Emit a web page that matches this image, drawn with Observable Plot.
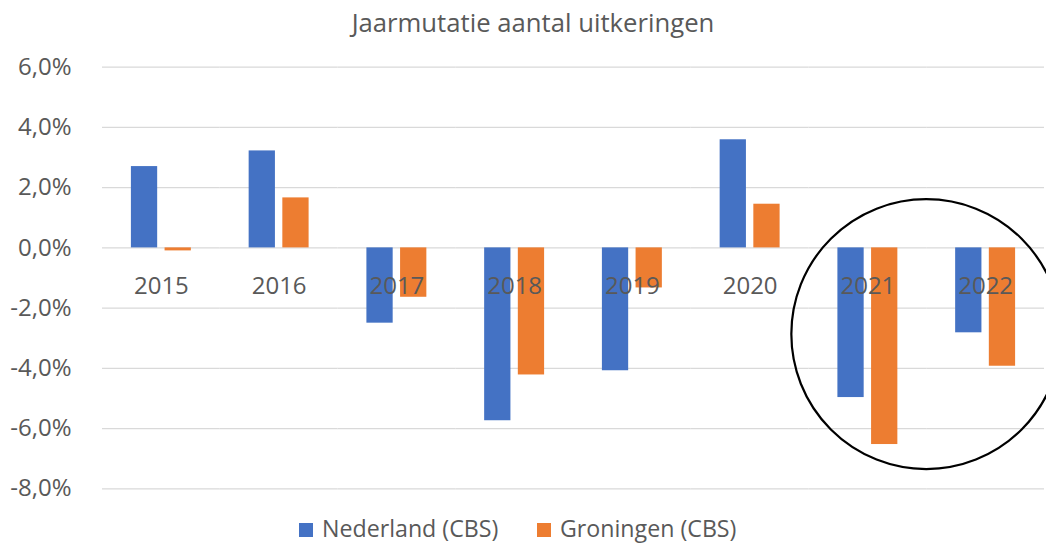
<!DOCTYPE html>
<html>
<head>
<meta charset="utf-8">
<script src="https://cdn.jsdelivr.net/npm/d3@7"></script>
<script src="https://cdn.jsdelivr.net/npm/@observablehq/plot@0.6"></script>
<style>
  html, body { margin: 0; padding: 0; background: #ffffff; }
  #wrap { position: relative; width: 1046px; height: 544px; overflow: hidden; font-family: "Open Sans", sans-serif; color: #595959; }
  #chart { position: absolute; left: 0; top: 0; }
  #title { position: absolute; left: 0; top: 10px; width: 1066px; text-align: center; font-size: 25.7px; line-height: 25.7px; white-space: nowrap; }
  .leg { position: absolute; top: 516.6px; font-size: 23.2px; line-height: 23.2px; white-space: nowrap; }
  .sw { position: absolute; top: 523px; width: 14px; height: 14px; }
</style>
</head>
<body>
<div id="wrap">
  <div id="chart"></div>
  <div id="title"></div>
  <div id="legend"></div>
</div>
<script>
// ---- data ----
const titleText = "Jaarmutatie aantal uitkeringen";
const years = ["2015", "2016", "2017", "2018", "2019", "2020", "2021", "2022"];
const series = ["Nederland (CBS)", "Groningen (CBS)"];
const nederland = [2.70, 3.22, -2.50, -5.74, -4.08, 3.59, -4.97, -2.82];
const groningen = [-0.10, 1.66, -1.64, -4.22, -1.33, 1.45, -6.53, -3.93];
const yTicks = [-8, -6, -4, -2, 0, 2, 4, 6];
const colors = ["#4472C4", "#ED7D31"];
// hand-drawn highlight circle around the last two years (centre between them, in % units)
const highlight = { from: "2021", to: "2022", y: -2.88, radius: 4.48 };

const rows = years.flatMap((yr, i) => [
  { year: yr, series: series[0], value: nederland[i] },
  { year: yr, series: series[1], value: groningen[i] }
]);
const fmt = d => d.toFixed(1).replace(".", ",") + "%";

const chart = Plot.plot({
  width: 1046,
  height: 544,
  marginLeft: 102,
  marginRight: 2,
  marginTop: 66.7,
  marginBottom: 55.7,
  style: { fontFamily: "Open Sans, sans-serif", color: "#595959", background: "transparent", overflow: "visible" },
  fx: { domain: years, padding: 0, round: false, axis: null, label: null },
  x: { domain: series, paddingInner: 0.22, paddingOuter: 0.858, round: false, axis: null, label: null },
  y: { domain: [-8, 6], label: null },
  color: { domain: series, range: colors },
  marks: [
    Plot.ruleY(yTicks, { stroke: "#D9D9D9", strokeWidth: 1.3 }),
    Plot.barY(rows, { fx: "year", x: "series", y: "value", fill: "series" }),
    Plot.text(years, { fx: d => d, y: 0, text: d => d, dy: 38, fill: "#595959", fontSize: 24 }),
    Plot.axisY({ ticks: yTicks, tickSize: 0, tickPadding: 31, tickFormat: fmt, fontSize: 24, fill: "#595959", label: null })
  ]
});

document.getElementById("chart").appendChild(chart);

// highlight ellipse placed with the chart's own scales
const fxS = chart.scale("fx");
const yS = chart.scale("y");
const bw = fxS.bandwidth;
const cx = (fxS.apply(highlight.from) + bw / 2 + fxS.apply(highlight.to) + bw / 2) / 2;
const cy = yS.apply(highlight.y);
const r = yS.apply(0) - yS.apply(highlight.radius);
d3.select(chart).append("circle")
  .attr("cx", cx).attr("cy", cy).attr("r", r)
  .attr("fill", "none").attr("stroke", "#000").attr("stroke-width", 2.2);

// title
document.getElementById("title").textContent = titleText;

// legend
const legend = document.getElementById("legend");
const legLeft = [299, 537];
series.forEach((s, i) => {
  const sw = document.createElement("div");
  sw.className = "sw";
  sw.style.left = legLeft[i] + "px";
  sw.style.background = colors[i];
  legend.appendChild(sw);
  const t = document.createElement("div");
  t.className = "leg";
  t.style.left = (legLeft[i] + 23) + "px";
  t.textContent = s;
  legend.appendChild(t);
});
</script>
</body>
</html>
